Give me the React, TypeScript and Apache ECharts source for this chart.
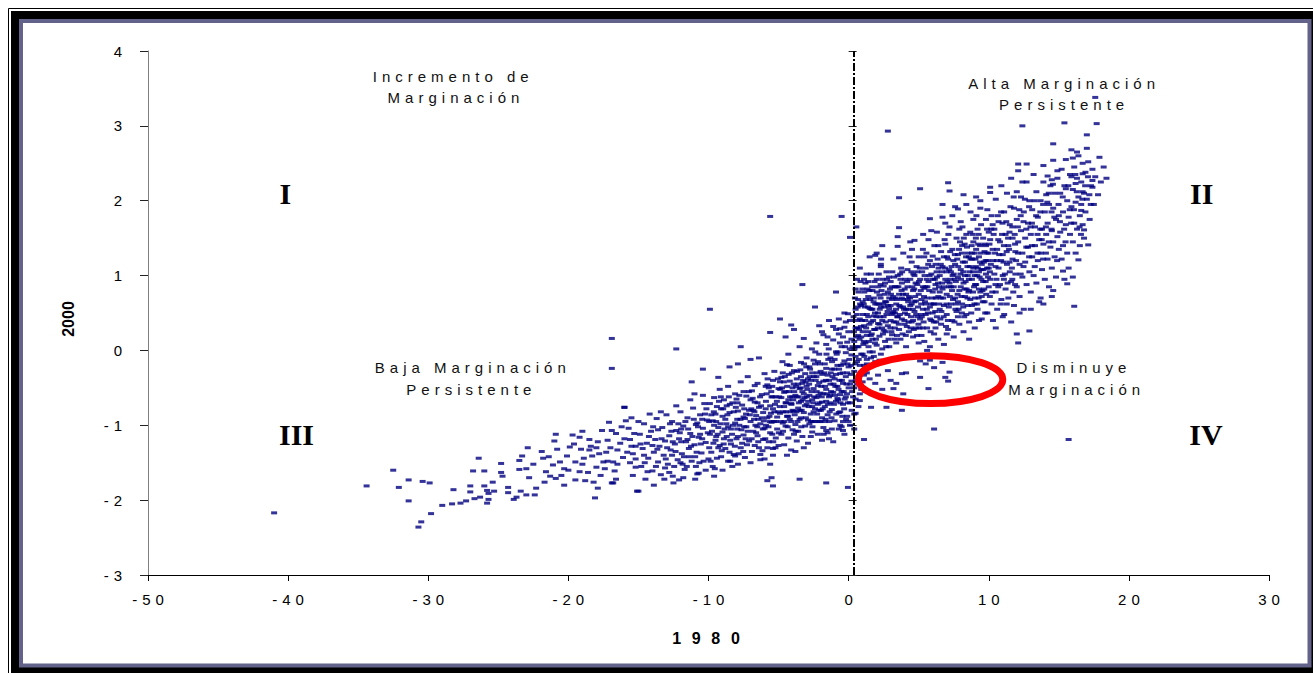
import React, { useEffect, useRef } from "react";
import * as echarts from "echarts";

// ---- axis settings ----
const xMin = -50;
const xMax = 30;
const xStep = 10;
const yMin = -3;
const yMax = 4;
const yStep = 1;
const xName = "1980";
const yName = "2000";
const verticalRefX = 0.35;
const horizontalRefY = 0.03;
const horizontalRefEndX = 30.4;

// ---- quadrant labels (data coords) ----
const romanLabels: [string, number, number][] = [
  ["I", -40.2, 2.09],
  ["II", 25.2, 2.09],
  ["III", -39.4, -1.12],
  ["IV", 25.5, -1.12],
];
const noteLines: [string, number, number][] = [
  ["Incremento de", -28.4, 3.66],
  ["Marginación", -28.2, 3.38],
  ["Alta Marginación", 15.2, 3.57],
  ["Persistente", 15.2, 3.29],
  ["Baja Marginación", -27.0, -0.23],
  ["Persistente", -27.1, -0.52],
  ["Disminuye", 15.9, -0.23],
  ["Marginación", 16.1, -0.52],
];
// highlighted zone: center x, center y, half-width (x units), half-height (y units)
const highlightZone = [5.85, -0.39, 5.15, 0.32];

// ---- municipalities: [index 1980, index 2000] ----
const westTail: number[][] = [
  [-41.0,-2.17],[-34.4,-1.81],[-32.5,-1.60],[-32.1,-1.83],[-31.4,-1.73],[-31.4,-2.01],[-30.4,-1.75],[-29.9,-1.77],
  [-29.8,-2.18],[-30.5,-2.29],[-30.7,-2.36],[-29.0,-2.07],[-28.3,-2.05],[-28.2,-1.86],[-27.7,-2.04],[-27.3,-2.01],
  [-27.0,-1.89],[-27.0,-1.81],[-26.8,-1.61],[-26.4,-1.44],[-26.7,-1.98],[-26.3,-1.96],[-26.0,-1.61],[-26.0,-1.81],
  [-25.8,-1.87],[-25.7,-1.91],[-25.7,-1.99],[-25.8,-2.04],[-25.4,-1.76],[-25.3,-1.88],[-24.8,-1.51],[-24.8,-1.63],
  [-24.7,-1.68],[-24.3,-1.83],[-24.3,-1.90],[-23.9,-1.99],[-23.7,-1.96],[-23.5,-1.47],[-23.3,-1.41],[-23.5,-1.59],
  [-23.4,-1.88],[-23.0,-1.93],[-22.9,-1.30],[-23.0,-1.58],[-22.5,-1.52],[-22.8,-1.70],[-22.3,-1.84],[-22.4,-1.93],
  [-21.8,-1.44],[-21.6,-1.62],[-21.7,-1.76],[-21.4,-1.42],[-21.1,-1.53],[-20.9,-1.12],[-21.0,-1.21],[-20.8,-1.32],
  [-20.9,-1.71],[-20.5,-1.67],[-20.3,-1.80],[-20.3,-1.58],[-20.1,-1.41],[-19.9,-1.29],[-19.7,-1.13],[-19.5,-1.49],
  [-19.5,-1.73],[-19.2,-1.62],[-19.2,-1.16],[-19.1,-1.32],[-19.0,-1.08],[-18.9,-1.44],[-18.8,-1.74],[-18.5,-1.19],
  [-18.5,-1.33],[-18.4,-1.28],[-18.2,-1.76],[-18.1,-1.97],[-18.0,-1.56],[-17.9,-1.22],[-17.8,-1.38],[-17.7,-1.67],
  [-17.5,-1.49],[-17.6,-1.07],[-17.3,-1.36],[-17.2,-1.20],[-17.1,-0.96],[-16.9,-1.07],[-16.9,-1.77],[-16.8,-1.49],
  [-16.7,-1.61],[-16.6,-1.11],[-16.5,-1.33],[-16.3,-1.24],[-16.1,-1.43],[-16.0,-0.76],[-15.9,-0.94],[-15.7,-1.04],
  [-15.6,-1.19],[-15.6,-1.50],[-15.4,-1.38],[-15.4,-1.67],[-15.3,-1.11],[-15.2,-1.56],[-15.1,-1.88],
  [-21.9,-1.35],[-21.3,-1.68],[-20.6,-1.49],[-20.0,-1.60],[-19.6,-1.25],[-19.0,-1.52],[-18.6,-1.63],[-18.3,-1.41],
  [-17.9,-1.84],[-17.4,-1.58],[-17.0,-1.30],[-16.6,-1.72],[-16.2,-1.02],[-15.8,-1.36],[-15.5,-0.90],[-15.2,-1.28],
];

const lowerBand: number[][] = [
  [-14.9,-1.12],[-14.8,-1.55],[-14.7,-1.31],[-14.6,-0.98],[-14.5,-1.72],[-14.4,-1.24],[-14.3,-1.44],[-14.1,-1.08],
  [-14.0,-1.61],[-13.9,-1.36],[-13.8,-1.19],[-13.7,-0.91],[-13.6,-1.49],[-13.5,-1.28],[-13.4,-1.66],[-13.3,-1.03],
  [-13.2,-1.40],[-13.1,-1.21],[-13.0,-0.86],[-12.9,-1.52],[-12.8,-1.14],[-12.7,-1.33],[-12.6,-0.95],[-12.5,-1.77],
  [-12.4,-1.25],[-12.3,-1.07],[-12.2,-1.46],[-12.1,-1.18],[-12.0,-0.82],[-11.9,-1.38],[-11.8,-1.01],[-11.7,-1.59],
  [-11.6,-1.22],[-11.5,-0.90],[-11.4,-1.31],[-11.3,-1.11],[-11.2,-1.48],[-11.1,-0.77],[-11.0,-1.26],[-10.9,-0.99],
  [-10.8,-1.65],[-10.7,-1.16],[-10.6,-0.86],[-10.5,-1.37],[-10.4,-1.04],[-10.3,-0.71],[-10.2,-1.23],[-10.1,-0.93],
  [-10.0,-1.45],[-14.2,-0.85],[-13.9,-1.80],[-13.4,-0.82],[-12.8,-1.63],[-12.3,-0.74],[-11.8,-1.70],[-11.3,-0.66],
  [-10.9,-1.55],[-10.4,-0.60],[-14.6,-1.40],[-13.1,-1.57],[-12.0,-1.50],[-11.0,-0.58],[-10.6,-1.12],[-15.0,-0.95],
  [-14.0,-1.27],[-13.6,-1.06],[-12.6,-1.40],[-11.5,-1.19],[-10.8,-0.97],[-10.2,-1.60],
  [-11.2,-0.42],[-10.4,-0.25],[-9.3,-0.36],[-8.5,-0.22],[-7.9,-0.18],[-7.0,-0.12],[-6.4,-0.10],
];

const middleBand: number[][] = [
  [-9.9,-1.12],[-9.9,-0.71],[-9.8,-1.36],[-9.7,-0.94],[-9.7,-1.55],[-9.6,-0.63],[-9.5,-1.20],[-9.5,-0.85],
  [-9.4,-1.44],[-9.3,-1.03],[-9.2,-0.52],[-9.2,-1.27],[-9.1,-0.78],[-9.0,-1.60],[-9.0,-1.09],[-8.9,-0.66],
  [-8.8,-1.31],[-8.8,-0.92],[-8.7,-1.15],[-8.6,-0.48],[-8.6,-1.48],[-8.5,-0.83],[-8.4,-1.05],[-8.4,-1.25],
  [-8.3,-0.70],[-8.2,-1.39],[-8.1,-0.97],[-8.1,-0.58],[-8.0,-1.18],[-7.9,-0.81],[-7.9,-1.52],[-7.8,-1.00],
  [-7.7,-0.42],[-7.7,-1.30],[-7.6,-0.73],[-7.5,-1.13],[-7.5,-0.89],[-7.4,-1.43],[-7.3,-0.61],[-7.3,-1.02],
  [-7.2,-0.35],[-7.1,-1.21],[-7.1,-0.80],[-7.0,-0.95],[-6.9,-1.35],[-6.9,-0.54],[-6.8,-1.08],[-6.7,-0.69],
  [-6.7,-1.27],[-6.6,-0.87],[-6.5,-0.44],[-6.5,-1.14],[-6.4,-0.76],[-6.3,-1.46],[-6.3,-0.98],[-6.2,-0.59],
  [-6.1,-1.19],[-6.1,-0.83],[-6.0,-0.31],[-6.0,-1.04],[-5.9,-0.68],[-5.8,-1.30],[-5.8,-0.90],[-5.7,-0.50],
  [-5.6,-1.10],[-5.6,-0.74],[-5.5,-0.96],[-5.4,-1.40],[-5.4,-0.40],[-5.3,-0.82],[-5.2,-1.17],[-5.2,-0.62],
  [-5.1,-0.89],[-5.0,-1.27],[-5.0,-0.51],[-9.6,-1.00],[-9.1,-1.42],[-8.7,-0.74],[-8.3,-1.55],[-7.8,-0.60],
  [-7.4,-0.91],[-7.0,-1.50],[-6.6,-1.10],[-6.2,-0.90],[-5.7,-1.22],[-5.3,-0.28],[-9.4,-0.75],[-8.9,-1.18],
  [-8.2,-0.82],[-7.6,-1.24],[-6.8,-0.80],[-6.4,-1.30],[-5.9,-1.00],[-5.5,-0.62],[-5.1,-1.05],[-9.8,-0.86],
  [-8.5,-1.36],[-7.2,-1.08],[-6.0,-1.45],[-5.6,-1.52],[-8.0,-0.65],[-7.0,-0.66],[-6.5,-0.70],[-5.4,-0.78],
  [-9.3,-1.30],[-8.6,-1.02],[-7.5,-0.55],[-6.7,-0.47],[-5.8,-0.46],[-5.2,-0.95],[-9.0,-0.88],[-7.9,-1.15],
];

const middleFill: number[][] = [
  [-12.95,-1.30],[-12.65,-1.08],[-12.45,-1.55],[-12.15,-0.98],[-11.95,-1.22],[-11.75,-1.42],[-11.45,-1.05],[-11.25,-1.28],
  [-11.05,-0.92],[-10.85,-1.36],[-10.65,-1.50],[-10.45,-1.18],[-10.25,-0.85],[-10.05,-1.10],[-9.85,-1.48],[-9.65,-1.24],
  [-9.45,-0.95],[-9.25,-0.68],[-9.05,-1.34],[-8.85,-1.05],[-8.65,-0.86],[-8.45,-1.20],[-8.25,-1.00],[-8.05,-0.76],
  [-7.85,-1.38],[-7.65,-1.06],[-7.45,-0.78],[-7.25,-1.26],[-7.05,-0.86],[-6.85,-0.64],[-6.65,-1.00],[-6.45,-1.22],
  [-6.25,-0.74],[-6.05,-0.94],[-5.85,-0.58],[-5.65,-0.88],[-5.45,-1.12],[-5.25,-0.72],[-5.05,-0.38],[-9.75,-1.08],
  [-9.15,-0.98],[-8.55,-0.62],[-7.95,-0.92],[-7.35,-1.18],[-6.75,-0.92],[-6.15,-1.34],[-5.55,-0.84],
  [-12.55,-1.68],[-11.85,-1.52],[-10.95,-1.72],[-10.35,-1.48],[-9.55,-1.58],
];

const westDense: number[][] = [
  [-14.85,-1.25],[-14.55,-1.50],[-14.25,-1.15],[-13.95,-1.02],[-13.65,-1.32],[-13.35,-1.18],[-13.05,-1.45],[-12.75,-0.98],
  [-12.35,-1.35],[-12.05,-1.10],[-11.65,-0.95],[-11.35,-1.42],[-11.15,-1.15],[-10.75,-1.02],[-10.55,-1.25],[-10.15,-0.78],
  [-9.95,-0.95],[-9.62,-0.82],[-9.35,-1.12],[-9.12,-0.62],[-8.92,-1.25],[-8.72,-0.98],[-8.48,-0.72],[-8.32,-1.12],
  [-8.12,-1.28],[-7.92,-0.70],[-7.72,-0.92],[-7.52,-1.35],[-7.32,-0.85],[-7.12,-0.55],[-6.92,-1.18],[-6.72,-0.82],
  [-6.52,-1.02],[-6.32,-0.62],[-6.12,-1.05],[-5.92,-0.48],[-5.62,-0.95],[-5.42,-0.62],[-5.22,-1.30],[-5.02,-0.82],
  [-14.35,-1.62],[-13.75,-1.55],[-13.15,-1.72],[-12.55,-1.22],[-11.95,-1.05],[-11.55,-1.55],[-10.95,-1.42],[-10.45,-0.92],
  [-9.95,-1.30],[-9.45,-1.15],[-8.95,-0.78],[-8.45,-1.48],[-7.95,-1.05],[-7.45,-1.02],[-6.95,-0.78],[-6.45,-0.92],
  [-5.95,-1.18],[-5.45,-0.48],[-16.5,-1.52],[-16.0,-1.18],[-15.5,-1.28],[-15.2,-1.45],[-17.2,-1.48],[-18.0,-1.30],
];

const coreWest: number[][] = [
  [-4.9,-0.84],[-4.9,-0.42],[-4.8,-1.12],[-4.8,-0.63],[-4.7,-0.97],[-4.7,-0.30],[-4.6,-1.26],[-4.6,-0.75],
  [-4.5,-0.55],[-4.5,-1.01],[-4.4,-0.88],[-4.4,-0.19],[-4.3,-1.17],[-4.3,-0.66],[-4.2,-0.41],[-4.2,-0.92],
  [-4.1,-1.33],[-4.1,-0.71],[-4.0,-0.50],[-4.0,-1.06],[-3.9,-0.81],[-3.9,-0.27],[-3.8,-0.99],[-3.8,-0.60],
  [-3.7,-1.21],[-3.7,-0.38],[-3.6,-0.77],[-3.6,-1.08],[-3.5,-0.51],[-3.5,-0.92],[-3.4,-0.16],[-3.4,-0.68],
  [-3.3,-1.15],[-3.3,-0.44],[-3.2,-0.83],[-3.2,-0.58],[-3.1,-1.01],[-3.1,-0.31],[-3.0,-0.72],[-3.0,-0.48],
  [-2.9,-0.93],[-2.9,-1.24],[-2.8,-0.60],[-2.8,-0.22],[-2.7,-0.85],[-2.7,-0.40],[-2.6,-1.09],[-2.6,-0.66],
  [-2.5,-0.13],[-2.5,-0.51],[-2.4,-0.78],[-2.4,-0.95],[-2.3,-0.35],[-2.3,-0.63],[-2.2,-1.12],[-2.2,-0.47],
  [-2.1,-0.80],[-2.1,-0.05],[-2.0,-0.57],[-2.0,-0.28],[-1.9,-0.90],[-1.9,-0.69],[-1.8,-0.41],[-1.8,-1.03],
  [-1.7,-0.18],[-1.7,-0.75],[-1.6,-0.52],[-1.6,0.08],[-1.5,-0.86],[-1.5,-0.33],[-1.4,-0.62],[-1.4,-1.18],
  [-1.3,-0.45],[-1.3,-0.10],[-1.2,-0.79],[-1.2,-0.25],[-1.1,-0.56],[-1.1,0.14],[-1.0,-0.94],[-1.0,-0.38],
  [-0.9,-0.68],[-0.9,-0.02],[-0.8,-0.48],[-0.8,-0.20],[-0.7,-0.83],[-0.7,0.22],[-0.6,-0.59],[-0.6,-0.31],
  [-0.5,-1.02],[-0.5,0.05],[-0.4,-0.44],[-0.4,-0.72],[-0.3,-0.14],[-0.3,0.31],[-0.2,-0.62],[-0.2,-0.35],
  [-0.1,-0.88],[-0.1,0.11],[0.0,-0.50],[0.0,-0.22],[0.1,0.40],[0.1,-0.70],[0.2,-0.06],[0.2,-0.41],
  [-4.8,-0.36],[-4.4,-1.40],[-4.0,-0.80],[-3.6,-0.45],[-3.2,-1.30],[-2.8,-0.98],[-2.4,-0.18],[-2.0,-0.95],
  [-1.6,-0.68],[-1.2,-1.05],[-0.8,-0.64],[-0.4,0.18],[0.0,-0.95],[-4.6,-0.56],[-4.2,-0.20],[-3.8,-1.35],
  [-3.4,-0.90],[-3.0,-0.10],[-2.6,-0.30],[-2.2,-0.72],[-1.8,-0.58],[-1.4,-0.40],[-1.0,-0.12],[-0.6,-0.82],
  [-0.2,-0.03],[-4.5,-0.70],[-4.1,-0.95],[-3.7,-0.62],[-3.3,-0.55],[-2.9,-0.38],[-2.5,-0.82],[-2.1,-0.43],
  [-1.7,-0.95],[-1.3,-0.70],[-0.9,-0.32],[-0.5,-0.55],[-0.1,-0.30],[0.2,0.15],[-3.5,0.05],[-2.3,0.10],
  [-1.9,0.25],[-1.5,0.18],[-1.1,0.32],[-0.7,0.42],[-0.3,0.50],[-2.7,-1.15],[-1.9,-1.20],[-1.1,-1.22],
  [-0.3,-1.12],[-1.5,-1.10],[-0.7,-1.05],[0.1,-1.00],[-3.9,-1.12],[-4.3,-0.05],[-0.9,0.28],[-0.4,-0.95],
  [-1.6,-0.24],[-2.6,-0.75],[-3.4,-0.35],
];

const coreWestFill: number[][] = [
  [-4.95,-0.62],[-4.85,-0.95],[-4.75,-0.50],[-4.65,-0.82],[-4.55,-0.35],[-4.45,-0.70],[-4.35,-1.02],[-4.25,-0.55],
  [-4.15,-0.82],[-4.05,-0.30],[-3.95,-0.66],[-3.85,-0.86],[-3.75,-0.48],[-3.65,-0.95],[-3.55,-0.70],[-3.45,-0.26],
  [-3.35,-0.80],[-3.25,-0.40],[-3.15,-0.63],[-3.05,-0.90],[-2.95,-0.52],[-2.85,-0.75],[-2.75,-0.25],[-2.65,-0.55],
  [-2.55,-0.95],[-2.45,-0.62],[-2.35,-0.40],[-2.25,-0.85],[-2.15,-0.60],[-2.05,-0.18],[-1.95,-0.48],[-1.85,-0.78],
  [-1.75,-0.30],[-1.65,-0.92],[-1.55,-0.58],[-1.45,-0.12],[-1.35,-0.82],[-1.25,-0.55],[-1.15,-0.35],[-1.05,-0.72],
  [-0.95,-0.48],[-0.85,-0.05],[-0.75,-0.66],[-0.65,-0.40],[-0.55,-0.20],[-0.45,-0.88],[-0.35,-0.55],[-0.25,0.05],
  [-0.15,-0.45],[-0.05,-0.70],[0.05,-0.12],[0.15,-0.32],[0.25,-0.55],
  [-4.92,-0.75],[-4.62,-0.42],[-4.32,-0.88],[-4.02,-0.62],[-3.72,-0.82],[-3.42,-0.50],[-3.12,-0.74],[-2.82,-0.45],
  [-2.52,-0.70],[-2.22,-0.30],[-1.92,-0.62],[-1.62,-0.40],[-1.32,-0.60],[-1.02,-0.25],[-0.72,-0.52],[-0.42,-0.30],
  [-0.12,-0.58],[0.18,-0.20],[-4.72,-0.15],[-3.92,-0.45],[-3.02,-0.22],[-2.12,-0.95],[-1.22,-0.90],[-0.32,-0.78],
  [-2.62,0.02],[-1.42,0.02],[-0.62,0.10],[-0.02,0.25],
];

const coreWestDense: number[][] = [
  [-5.92,-0.78],[-5.72,-1.02],[-5.52,-0.55],[-5.32,-0.95],[-5.12,-0.68],[-4.88,-0.52],[-4.68,-1.08],[-4.48,-0.82],
  [-4.28,-0.32],[-4.08,-0.72],[-3.88,-0.55],[-3.68,-0.28],[-3.48,-0.80],[-3.28,-0.66],[-3.08,-0.42],[-2.88,-0.68],
  [-2.68,-0.95],[-2.48,-0.35],[-2.28,-0.55],[-2.08,-0.70],[-1.88,-0.32],[-1.68,-0.48],[-1.48,-0.72],[-1.28,-0.30],
  [-1.08,-0.45],[-0.88,-0.85],[-0.68,-0.25],[-0.48,-0.40],[-0.28,-0.65],[-0.08,-0.18],[0.12,-0.45],[0.28,0.05],
  [-5.78,-0.38],[-5.38,-1.22],[-4.98,-1.10],[-4.58,-0.95],[-4.18,-0.62],[-3.78,-1.08],[-3.38,-1.02],[-2.98,-0.62],
  [-2.58,-1.02],[-2.18,-0.15],[-1.78,-1.12],[-1.38,-0.95],[-0.98,-0.60],[-0.58,-0.70],[-0.18,-0.92],[0.22,-0.80],
  [-4.38,-0.48],[-3.58,-0.62],[-2.78,-0.35],[-1.98,-0.80],[-1.18,-0.15],[-0.38,-0.18],[0.08,0.02],[-0.78,-0.02],
  [-1.58,-0.05],[-2.38,-0.02],[-3.18,-0.18],
];

const coreEast: number[][] = [
  [0.4,0.12],[0.4,-0.28],[0.5,0.55],[0.5,-0.08],[0.6,0.30],[0.6,-0.45],[0.7,0.78],[0.7,0.05],
  [0.8,-0.20],[0.8,0.42],[0.9,0.18],[0.9,-0.52],[1.0,0.65],[1.0,-0.05],[1.1,0.33],[1.1,-0.33],
  [1.2,0.90],[1.2,0.10],[1.3,0.48],[1.3,-0.12],[1.4,0.25],[1.4,0.72],[1.5,-0.02],[1.5,0.56],
  [1.6,0.38],[1.6,1.02],[1.7,0.15],[1.7,0.80],[1.8,0.46],[1.8,-0.08],[1.9,0.62],[1.9,0.28],
  [2.0,0.95],[2.0,0.07],[2.1,0.50],[2.1,0.36],[2.2,0.74],[2.2,0.19],[2.3,1.15],[2.3,0.58],
  [2.4,0.02],[2.4,0.40],[2.5,0.86],[2.5,0.27],[2.6,0.65],[2.6,0.12],[2.7,0.48],[2.7,1.05],
  [2.8,0.33],[2.8,0.78],[2.9,0.56],[2.9,0.05],[3.0,0.92],[3.0,0.40],[3.1,0.21],[3.1,0.68],
  [3.2,1.22],[3.2,0.52],[3.3,0.30],[3.3,0.85],[3.4,0.62],[3.4,0.10],[3.5,0.45],[3.5,1.00],
  [3.6,0.75],[3.6,0.28],[3.7,0.58],[3.7,0.15],[3.8,0.90],[3.8,0.42],[3.9,1.30],[3.9,0.68],
  [4.0,0.35],[4.0,0.82],[4.1,0.55],[4.1,0.05],[4.2,1.08],[4.2,0.48],[4.3,0.72],[4.3,0.25],
  [4.4,0.95],[4.4,0.60],[4.5,0.38],[4.5,1.18],[4.6,0.80],[4.6,0.18],[4.7,0.52],[4.7,1.00],
  [4.8,0.66],[4.8,0.30],[4.9,0.88],[4.9,0.45],[5.0,1.25],[5.0,0.10],[0.5,0.30],[0.9,0.60],
  [1.3,0.20],[1.7,0.55],[2.1,0.85],[2.5,0.45],[2.9,0.70],[3.3,0.50],[3.7,0.95],[4.1,0.75],
  [4.5,0.62],[4.9,1.05],[0.6,0.05],[1.0,0.25],[1.4,0.45],[1.8,0.70],[2.2,0.35],[2.6,0.90],
  [3.0,0.60],[3.4,0.38],[3.8,0.70],[4.2,0.85],[4.6,0.40],[5.0,0.75],[0.4,-0.50],[0.5,-0.65],
  [0.6,-0.15],[0.7,-0.35],[0.8,-0.58],[0.9,-0.05],[1.0,-0.42],[1.1,-0.20],[1.2,-0.55],[1.3,-0.30],
  [1.5,-0.22],[1.6,-0.10],[0.7,-0.75],[0.4,-0.85],[1.9,-0.15],[2.3,-0.05],[0.8,1.10],[1.5,1.25],
  [2.4,1.40],[3.5,1.52],[4.4,1.45],[1.1,0.95],[0.6,0.95],[2.0,1.30],
];

const eastFill: number[][] = [
  [0.35,0.45],[0.45,0.70],[0.55,0.18],[0.65,0.58],[0.75,0.28],[0.85,0.92],[0.95,0.40],[1.05,0.08],
  [1.15,0.58],[1.25,0.30],[1.35,0.82],[1.45,0.12],[1.55,0.68],[1.65,0.22],[1.75,0.40],[1.85,0.92],
  [1.95,0.15],[2.05,0.62],[2.15,1.02],[2.25,0.45],[2.35,0.80],[2.45,0.22],[2.55,0.58],[2.65,0.38],
  [2.75,0.95],[2.85,0.15],[2.95,0.82],[3.05,0.25],[3.15,0.50],[3.25,0.98],[3.35,0.70],[3.45,0.20],
  [3.55,0.85],[3.65,0.48],[3.75,1.10],[3.85,0.22],[3.95,0.55],[4.05,0.95],[4.15,0.32],[4.25,0.65],
  [4.35,1.25],[4.45,0.45],[4.55,0.85],[4.65,0.28],[4.75,0.72],[4.85,1.12],[4.95,0.58],[5.05,0.30],
  [5.15,0.80],[5.25,1.05],[5.35,0.38],[5.45,0.65],[5.55,1.30],[5.65,0.50],[5.75,0.80],[5.85,0.25],
  [5.95,1.12],[6.05,0.62],[6.15,0.95],[6.25,0.38],[6.35,1.22],[6.45,0.85],[6.55,0.42],[6.65,1.05],
  [6.75,0.70],[6.85,1.48],[6.95,0.32],[7.05,0.92],[7.15,0.58],[7.25,1.32],[7.35,1.12],[7.45,0.68],
  [7.55,0.38],[7.65,0.92],[7.75,1.22],[7.85,0.55],[7.95,1.45],[8.05,0.72],[8.15,1.18],[8.25,0.45],
  [8.35,0.92],[8.45,1.38],[8.55,0.78],[8.65,1.12],[8.75,0.50],[8.85,1.55],[8.95,0.85],[9.05,1.22],
  [9.15,0.62],[9.25,1.42],[9.35,0.98],[9.45,1.68],[9.55,0.80],[9.65,1.18],[9.75,0.50],[9.85,1.30],
  [9.95,0.98],[10.05,1.42],[10.15,1.15],[10.25,0.78],[10.35,1.55],[10.45,1.30],[10.55,0.95],[10.65,1.80],
  [10.75,1.28],[10.85,0.62],[10.95,1.55],[11.05,1.18],[11.15,1.02],[11.25,1.72],[11.35,0.90],[11.45,1.35],
  [11.55,1.92],[11.65,1.10],[11.75,0.78],[11.85,1.55],[11.95,1.20],
  [0.42,0.02],[0.62,0.40],[0.82,0.62],[1.02,0.48],[1.22,0.68],[1.42,0.05],[1.62,0.55],[1.82,0.28],
  [2.02,0.78],[2.22,0.55],[2.42,0.95],[2.62,0.25],[2.82,0.60],[3.02,0.75],[3.22,0.38],[3.42,0.85],
  [3.62,0.60],[3.82,1.05],[4.02,0.50],[4.22,0.68],[4.42,0.30],[4.62,1.02],[4.82,0.48],[5.02,0.92],
  [5.22,0.45],[5.42,1.00],[5.62,0.85],[5.82,0.42],[6.02,0.95],[6.22,0.70],[6.42,1.10],[6.62,0.52],
  [6.82,0.85],[7.02,1.25],[7.22,0.72],[7.42,1.00],[7.62,0.55],[7.82,1.12],[8.02,0.95],[8.22,1.50],
  [8.42,0.82],[8.62,1.05],[8.82,1.22],[9.02,0.88],[9.22,1.10],[9.42,1.30],[9.62,1.08],[9.82,0.75],
  [1.12,0.78],[2.32,1.22],[3.12,1.05],[4.52,1.35],[5.32,1.55],[6.12,1.40],[7.12,1.55],[8.12,1.65],
  [9.12,1.80],[0.72,-0.12],[1.12,-0.08],[0.52,-0.40],[0.92,-0.30],[0.32,-0.62],[1.72,-0.02],
];

const eastDense: number[][] = [
  [0.38,0.25],[0.58,0.48],[0.78,0.15],[0.98,0.82],[1.18,0.40],[1.38,0.58],[1.58,0.20],[1.78,0.65],
  [1.98,0.45],[2.18,0.62],[2.38,0.30],[2.58,0.75],[2.78,0.52],[2.98,0.30],[3.18,0.72],[3.38,0.55],
  [3.58,0.35],[3.78,0.80],[3.98,0.40],[4.18,0.92],[4.38,0.70],[4.58,0.55],[4.78,0.90],[4.98,0.35],
  [5.18,0.62],[5.38,0.72],[5.58,0.55],[5.78,1.00],[5.98,0.70],[6.18,0.52],[6.38,0.90],[6.58,1.15],
  [6.78,0.45],[6.98,0.62],[7.18,1.08],[7.38,0.80],[7.58,1.28],[7.78,0.75],[7.98,1.02],[8.18,0.58],
  [8.38,1.25],[8.58,0.95],[8.78,1.40],[8.98,0.62],[9.18,1.00],[9.38,1.18],[9.58,0.65],[9.78,1.20],
  [9.98,1.30],
  [0.48,-0.18],[0.68,0.68],[0.88,0.32],[1.08,0.12],[1.28,1.02],[1.48,0.35],[1.68,0.85],[1.88,0.10],
  [2.08,0.30],[2.28,0.88],[2.48,0.62],[2.68,0.05],[2.88,0.98],[3.08,0.48],[3.28,0.15],[3.48,0.68],
  [3.68,1.02],[3.88,0.58],[4.08,0.20],[4.28,0.55],[4.48,1.05],[4.68,0.65],[4.88,0.20],[5.08,1.10],
  [5.28,0.30],[5.48,0.85],[5.68,1.15],[5.88,0.62],[6.08,0.38],[6.28,1.05],[6.48,0.62],[6.68,0.90],
  [6.88,1.10],[7.08,0.40],[7.28,0.95],[7.48,1.20],[7.68,0.62],[7.88,1.35],[8.08,0.50],[8.28,0.82],
  [8.48,1.12],[8.68,0.68],[8.88,1.05],[9.08,1.50],[9.28,0.70],[9.48,0.95],[9.68,1.42],[9.88,1.10],
  [10.08,0.72],[10.28,1.35],[10.48,1.12],[10.68,0.85],[10.88,1.20],[11.08,1.40],[11.28,0.62],[11.48,1.18],
  [11.68,1.65],[11.88,0.88],[12.08,1.30],[12.28,1.80],[12.48,1.12],[12.68,1.62],[12.88,1.25],[13.08,1.70],
  [13.28,1.12],[13.48,1.55],[13.68,1.85],[13.88,1.22],[14.08,1.65],[14.28,1.45],[14.48,1.85],
];

const eastUpper: number[][] = [
  [8.08,1.30],[8.28,1.42],[8.48,0.70],[8.68,1.58],[8.88,0.78],[9.08,1.12],[9.28,1.55],[9.48,1.08],
  [9.68,0.82],[9.88,1.62],[10.08,1.05],[10.28,1.68],[10.48,0.88],[10.68,1.48],[10.88,1.85],[11.08,0.95],
  [11.28,1.32],[11.48,1.58],[11.68,0.95],[11.88,1.42],[12.08,1.65],[12.28,1.02],[12.48,1.72],[12.68,1.38],
  [12.88,1.92],[13.08,1.40],[13.28,2.00],[13.48,1.30],[13.68,1.62],[13.88,1.95],[14.08,1.30],[14.28,2.10],
  [14.48,1.62],[14.68,1.78],[14.88,1.20],[15.08,1.72],[15.28,2.05],[15.48,1.45],[15.68,2.20],[15.88,1.70],
  [16.08,1.88],[16.28,2.12],[16.48,1.65],[16.68,2.02],[16.88,2.20],[17.08,2.32],[17.28,1.95],
  [10.18,1.62],[10.58,1.20],[10.98,1.70],[11.38,1.50],[11.78,2.05],[12.18,1.88],[12.58,2.02],[12.98,1.65],
  [13.38,1.80],[13.78,1.48],[14.18,1.98],[14.58,2.22],[14.98,1.95],[15.38,1.62],[15.78,1.88],[16.18,2.35],
  [16.58,1.55],[17.18,2.08],[8.18,1.05],[8.58,1.25],[8.98,1.30],[9.38,1.40],[9.78,0.92],[7.18,0.85],
  [7.58,0.95],[6.58,0.70],[6.18,0.82],[5.58,0.95],[5.18,0.48],[4.68,0.82],[4.28,0.38],[3.88,0.75],
  [3.48,0.45],[3.08,0.85],[2.68,0.65],[2.28,0.70],[1.88,0.50],[1.48,0.80],[1.08,0.62],[0.68,0.20],
];

const eastBand: number[][] = [
  [5.1,0.42],[5.1,0.95],[5.2,0.20],[5.2,0.68],[5.3,1.35],[5.3,0.55],[5.4,0.83],[5.4,0.12],
  [5.5,1.10],[5.5,0.48],[5.6,0.70],[5.6,0.30],[5.7,1.48],[5.7,0.92],[5.8,0.58],[5.8,0.05],
  [5.9,1.02],[5.9,0.40],[6.0,0.78],[6.0,1.26],[6.1,0.22],[6.1,0.62],[6.2,1.15],[6.2,0.88],
  [6.3,0.45],[6.3,1.58],[6.4,0.72],[6.4,0.15],[6.5,1.00],[6.5,0.55],[6.6,1.32],[6.6,0.35],
  [6.7,0.82],[6.7,1.12],[6.8,0.60],[6.8,0.08],[6.9,1.42],[6.9,0.95],[7.0,0.48],[7.0,0.75],
  [7.1,1.22],[7.1,0.28],[7.2,0.90],[7.2,1.65],[7.3,0.62],[7.3,1.05],[7.4,0.40],[7.4,1.35],
  [7.5,0.85],[7.5,0.18],[7.6,1.15],[7.6,0.70],[7.7,1.50],[7.7,0.52],[7.8,0.98],[7.8,1.28],
  [7.9,0.35],[7.9,0.80],[8.0,1.08],[8.0,1.72],[8.1,0.62],[8.1,1.40],[8.2,0.90],[8.2,0.25],
  [8.3,1.18],[8.3,0.72],[8.4,1.55],[8.4,0.48],[8.5,1.00],[8.5,1.30],[8.6,0.80],[8.6,0.38],
  [8.7,1.22],[8.7,1.85],[8.8,0.95],[8.8,0.60],[8.9,1.45],[8.9,1.10],[9.0,0.70],[9.0,0.30],
  [9.1,1.35],[9.1,0.88],[9.2,1.62],[9.2,0.55],[9.3,1.05],[9.3,1.25],[9.4,0.78],[9.4,1.90],
  [9.5,0.42],[9.5,1.15],[9.6,1.50],[9.6,0.92],[9.7,0.65],[9.7,1.32],[9.8,1.75],[9.8,1.02],
  [9.9,0.50],[9.9,1.20],[10.0,0.85],[10.0,1.58],[5.4,1.25],[5.9,1.60],[6.4,1.40],[6.9,1.70],
  [7.4,1.80],[7.9,1.62],[8.4,1.95],[8.9,1.75],[9.4,2.00],[9.9,1.88],[5.6,0.00],[6.2,0.30],
  [7.0,0.22],[7.8,0.45],[8.6,0.15],[9.3,0.40],[5.3,0.85],[5.8,1.20],[6.3,0.98],[6.8,1.25],
  [7.3,0.85],[7.8,0.65],[8.3,1.00],[8.8,1.30],[9.3,0.82],[9.8,1.40],[5.5,0.62],[6.0,0.50],
  [6.5,0.78],[7.0,1.05],[7.5,1.02],[8.0,0.85],[8.5,0.60],[9.0,1.00],[9.5,0.72],[10.0,1.10],
  [6.7,1.95],[7.6,1.92],[8.2,2.08],[9.1,2.05],
];

const farEastBand: number[][] = [
  [10.1,0.95],[10.1,1.48],[10.2,0.62],[10.2,1.80],[10.3,1.20],[10.3,0.40],[10.4,1.62],[10.4,1.02],
  [10.5,0.78],[10.5,2.02],[10.6,1.35],[10.6,0.55],[10.7,1.10],[10.7,1.72],[10.8,0.88],[10.8,1.45],
  [10.9,2.20],[10.9,0.68],[11.0,1.28],[11.0,1.00],[11.1,1.85],[11.1,0.48],[11.2,1.55],[11.2,0.82],
  [11.3,1.15],[11.3,2.10],[11.4,1.40],[11.4,0.70],[11.5,1.68],[11.5,1.05],[11.6,0.92],[11.6,2.30],
  [11.7,1.50],[11.7,1.22],[11.8,0.60],[11.8,1.90],[11.9,1.32],[11.9,1.02],[12.0,1.75],[12.0,0.85],
  [12.1,2.40],[12.1,1.45],[12.2,1.15],[12.2,0.72],[12.3,1.60],[12.3,2.05],[12.4,1.30],[12.4,0.98],
  [12.5,1.85],[12.5,0.55],[12.6,1.50],[12.6,1.18],[12.7,2.25],[12.7,0.88],[12.8,1.70],[12.8,1.38],
  [12.9,1.05],[12.9,2.00],[13.0,1.55],[13.0,0.78],[13.1,1.25],[13.1,1.88],[13.2,2.35],[13.2,1.00],
  [13.3,1.65],[13.3,1.40],[13.4,0.90],[13.4,2.12],[13.5,1.78],[13.5,1.20],[13.6,1.48],[13.6,0.65],
  [13.7,2.00],[13.7,1.30],[13.8,1.62],[13.8,1.08],[13.9,2.25],[13.9,1.42],[14.0,1.85],[14.0,0.95],
  [14.1,1.55],[14.1,2.08],[14.2,1.22],[14.2,1.70],[14.3,1.95],[14.3,0.85],[14.4,1.38],[14.4,2.20],
  [14.5,1.60],[14.5,1.10],[14.6,1.90],[14.6,1.45],[14.7,2.10],[14.7,1.25],[14.8,1.75],[14.8,0.98],
  [14.9,1.52],[14.9,2.30],[15.0,1.35],[15.0,1.80],[10.5,0.30],[11.0,0.45],[11.6,0.38],[12.2,0.50],
  [13.0,0.55],[13.9,0.62],[14.5,0.72],
];

const eastTip: number[][] = [
  [15.1,1.58],[15.1,2.10],[15.2,1.22],[15.2,2.42],[15.3,1.85],[15.3,1.40],[15.4,2.20],[15.4,0.95],
  [15.5,1.68],[15.5,2.55],[15.6,1.30],[15.6,2.00],[15.7,1.78],[15.7,1.10],[15.8,2.35],[15.8,1.55],
  [15.9,1.92],[15.9,2.68],[16.0,1.45],[16.0,2.15],[16.1,1.70],[16.1,2.45],[16.2,1.30],[16.2,1.98],
  [16.3,2.30],[16.3,1.62],[16.4,2.05],[16.4,2.60],[16.5,1.80],[16.5,1.40],[16.6,2.25],[16.6,1.95],
  [16.7,2.50],[16.7,1.68],[16.8,2.10],[16.8,1.50],[16.9,2.38],[16.9,1.85],[17.0,2.02],[17.0,2.70],
  [17.2,1.75],[17.3,2.20],[17.4,2.42],[17.5,1.95],[17.6,2.32],[17.8,2.08],[17.9,2.58],[18.0,2.25],
  [18.2,2.45],[18.4,2.30],
];

const zoneBelow: number[][] = [
  [5.1,-0.14],[5.5,-0.18],[6.1,-0.23],[6.7,-0.16],[7.2,-0.29],[6.9,-0.36],[7.1,-0.41],[5.1,-0.36],
  [5.7,-0.51],[3.9,-0.58],[3.8,-0.31],[4.1,-0.30],[3.4,-0.44],[3.0,-0.40],[3.2,-0.51],[2.4,-0.52],
  [1.9,-0.44],[1.5,-0.38],[2.1,-0.33],[2.8,-0.27],[2.7,-0.76],[3.8,-0.80],[1.6,-0.76],[6.1,-1.05],
  [1.1,-1.19],[15.7,-1.19],[1.3,-0.18],[2.2,-0.13],[3.6,-0.11],[4.4,-0.09],[5.8,-0.13],[0.8,-0.67],
  [0.5,-0.84],[-0.6,-1.0],[-1.6,-1.07],[-0.4,-1.07],
];

const scattered: number[][] = [
  [-5.6,1.79],[-0.5,1.79],[0.1,1.51],[0.55,1.65],[-3.3,0.88],[-0.9,0.78],[-2.4,0.58],[-9.9,0.55],
  [-4.9,0.42],[-16.9,0.16],[-12.3,0.02],[-7.7,0.05],[-16.9,-0.24],[-16.0,-0.76],[-5.6,0.24],[-4.1,0.34],
  [-3.9,0.28],[-4.5,0.18],[-3.2,0.16],[-2.1,0.33],[-1.4,0.40],[-1.8,0.21],[-0.6,0.29],[-0.05,0.49],
  [-0.2,0.38],[-5.5,-1.70],[-5.8,-1.74],[-5.4,-1.81],[-3.5,-1.72],[-1.6,-1.77],[-0.05,-1.83],[0.4,-1.05],
  [-9.6,-1.68],[-12.1,-1.73],[-15.0,-1.88],[-16.8,-1.77],[-10.7,-1.64],[-6.3,-1.39],[-5.4,-1.31],[-8.1,-1.41],
  [2.8,2.93],[12.4,3.0],[15.4,3.04],[17.7,3.03],[17.0,2.88],[14.6,2.76],[16.3,2.65],[16.0,2.57],
  [17.1,2.52],[14.6,2.54],[12.1,2.49],[12.7,2.49],[13.9,2.47],[14.9,2.40],[16.7,2.36],[14.2,2.33],
  [15.9,2.32],[17.4,2.27],[14.5,2.28],[16.2,2.23],[17.4,2.18],[12.4,2.25],[7.1,2.24],[7.2,2.13],
  [5.1,2.16],[3.6,2.04],[10.1,2.18],[10.1,2.11],[12.0,2.12],[15.5,2.16],[16.7,2.12],[7.8,1.89],
  [6.7,1.78],[5.8,1.76],[3.6,1.64],[2.3,1.12],[1.9,1.27],[3.5,1.39],[4.7,1.47],[1.4,0.92],
  [0.5,0.82],[16.1,0.59],[17.1,1.41],[16.4,1.21],[16.8,1.61],[16.0,0.98],[15.6,0.89],[14.6,0.80],
  [13.7,0.70],[12.9,0.26],[12.0,0.22],[12.1,0.10],[15.3,1.06],[16.6,1.87],[17.6,3.38],
];

const SANS = "'Liberation Sans', Arial, sans-serif";
const SERIF = "'Liberation Serif', 'Times New Roman', serif";
const spaced = (s: string, gap = "\u2004") => Array.from(s).join(gap);

export default function App() {
  const ref = useRef<HTMLDivElement>(null);

  useEffect(() => {
    if (!ref.current) return;
    const chart = echarts.init(ref.current, null, { renderer: "svg" });
    const points = [
      ...westTail, ...lowerBand, ...middleBand, ...middleFill, ...westDense, ...coreWest, ...coreWestFill,
      ...coreWestDense, ...coreEast, ...eastFill, ...eastDense, ...eastUpper, ...eastBand, ...farEastBand,
      ...eastTip, ...zoneBelow, ...scattered,
    ];
    const labelStyle = { color: "#000", fontFamily: SANS, fontSize: 15 };
    chart.setOption({
      animation: false,
      backgroundColor: "#fff",
      grid: { left: 148, right: 44, top: 51, bottom: 98 },
      xAxis: {
        type: "value", min: xMin, max: xMax, interval: xStep,
        axisLine: { onZero: false, lineStyle: { color: "#000", width: 1 } },
        axisTick: { length: 6, lineStyle: { color: "#000" } },
        axisLabel: { ...labelStyle, margin: 17, formatter: (v: number) => spaced(String(v)) },
        splitLine: { show: false },
      },
      yAxis: [
        {
          type: "value", min: yMin, max: yMax, interval: yStep,
          axisLine: { show: true, onZero: false, lineStyle: { color: "#808080", width: 1 } },
          axisTick: { show: true, length: 8, lineStyle: { color: "#222" } },
          axisLabel: { ...labelStyle, margin: 26, formatter: (v: number) => spaced(String(v)) },
          splitLine: { show: false },
        },
        {
          type: "value", min: yMin, max: yMax, interval: yStep, position: "left", offset: 0,
          axisLine: { show: false },
          axisTick: { show: true, inside: true, length: 8, lineStyle: { color: "#222" } },
          axisLabel: { show: false },
          splitLine: { show: false },
        },
      ],
      series: [
        {
          type: "scatter",
          clip: false,
          symbol: "rect",
          symbolSize: [6, 3],
          itemStyle: { color: "#000080" },
          data: points,
          z: 3,
          markLine: {
            silent: true,
            symbol: "none",
            label: { show: false },
            data: [
              [
                { coord: [verticalRefX, yMin], lineStyle: { color: "#000", width: 2, type: [8, 2, 2, 2] } },
                { coord: [verticalRefX, yMax] },
              ],
              [
                { coord: [xMin, horizontalRefY], lineStyle: { color: "#444", width: 1, type: [1, 2] } },
                { coord: [horizontalRefEndX, horizontalRefY] },
              ],
            ],
          },
        },
        {
          type: "scatter", yAxisIndex: 1, data: [], silent: true,
        },
      ],
    });

    const toPx = (x: number, y: number) => chart.convertToPixel({ seriesIndex: 0 }, [x, y]) as number[];
    const graphics: any[] = [];
    // frame
    graphics.push(
      { type: "rect", silent: true, shape: { x: 8.5, y: 8.5, width: 1320, height: 680 }, style: { fill: "none", stroke: "#000", lineWidth: 1 } },
      { type: "rect", silent: true, shape: { x: 15, y: 15, width: 1300, height: 656 }, style: { fill: "none", stroke: "#000", lineWidth: 8 } },
      { type: "rect", silent: true, shape: { x: 21, y: 21, width: 1288.5, height: 644.5 }, style: { fill: "none", stroke: "#62628a", lineWidth: 4 } },
    );
    // axis names
    graphics.push(
      { type: "text", silent: true, x: 706, y: 638, style: { text: spaced(xName, "\u2004\u2004"), font: `bold 16px ${SANS}`, fill: "#000", align: "center", verticalAlign: "middle", textAlign: "center", textVerticalAlign: "middle" } },
      { type: "text", silent: true, x: 68, y: 319, rotation: Math.PI / 2, style: { text: yName, font: `bold 16px ${SANS}`, fill: "#000", align: "center", verticalAlign: "middle", textAlign: "center", textVerticalAlign: "middle" } },
    );
    // roman numerals
    romanLabels.forEach(([t, x, y]) => {
      const p = toPx(x, y);
      graphics.push({ type: "text", silent: true, x: p[0], y: p[1], z: 50, style: { text: t, font: `bold 30px ${SERIF}`, fill: "#000", align: "center", verticalAlign: "middle", textAlign: "center", textVerticalAlign: "middle" } });
    });
    // notes
    noteLines.forEach(([t, x, y]) => {
      const p = toPx(x, y);
      graphics.push({ type: "text", silent: true, x: p[0], y: p[1], z: 50, style: { text: spaced(t), font: `15px ${SANS}`, fill: "#111", align: "center", verticalAlign: "middle", textAlign: "center", textVerticalAlign: "middle" } });
    });
    // highlighted ellipse
    const c = toPx(highlightZone[0], highlightZone[1]);
    const e = toPx(highlightZone[0] + highlightZone[2], highlightZone[1] + highlightZone[3]);
    graphics.push({
      type: "ellipse", silent: true, z: 100,
      shape: { cx: c[0], cy: c[1], rx: Math.abs(e[0] - c[0]), ry: Math.abs(e[1] - c[1]) },
      style: { fill: "none", stroke: "#ff0000", lineWidth: 7 },
    });
    chart.setOption({ graphic: graphics });

    return () => chart.dispose();
  }, []);

  return (
    <div
      ref={ref}
      style={{ position: "fixed", left: 0, top: 0, width: 1313, height: 673, background: "#fff" }}
    />
  );
}
